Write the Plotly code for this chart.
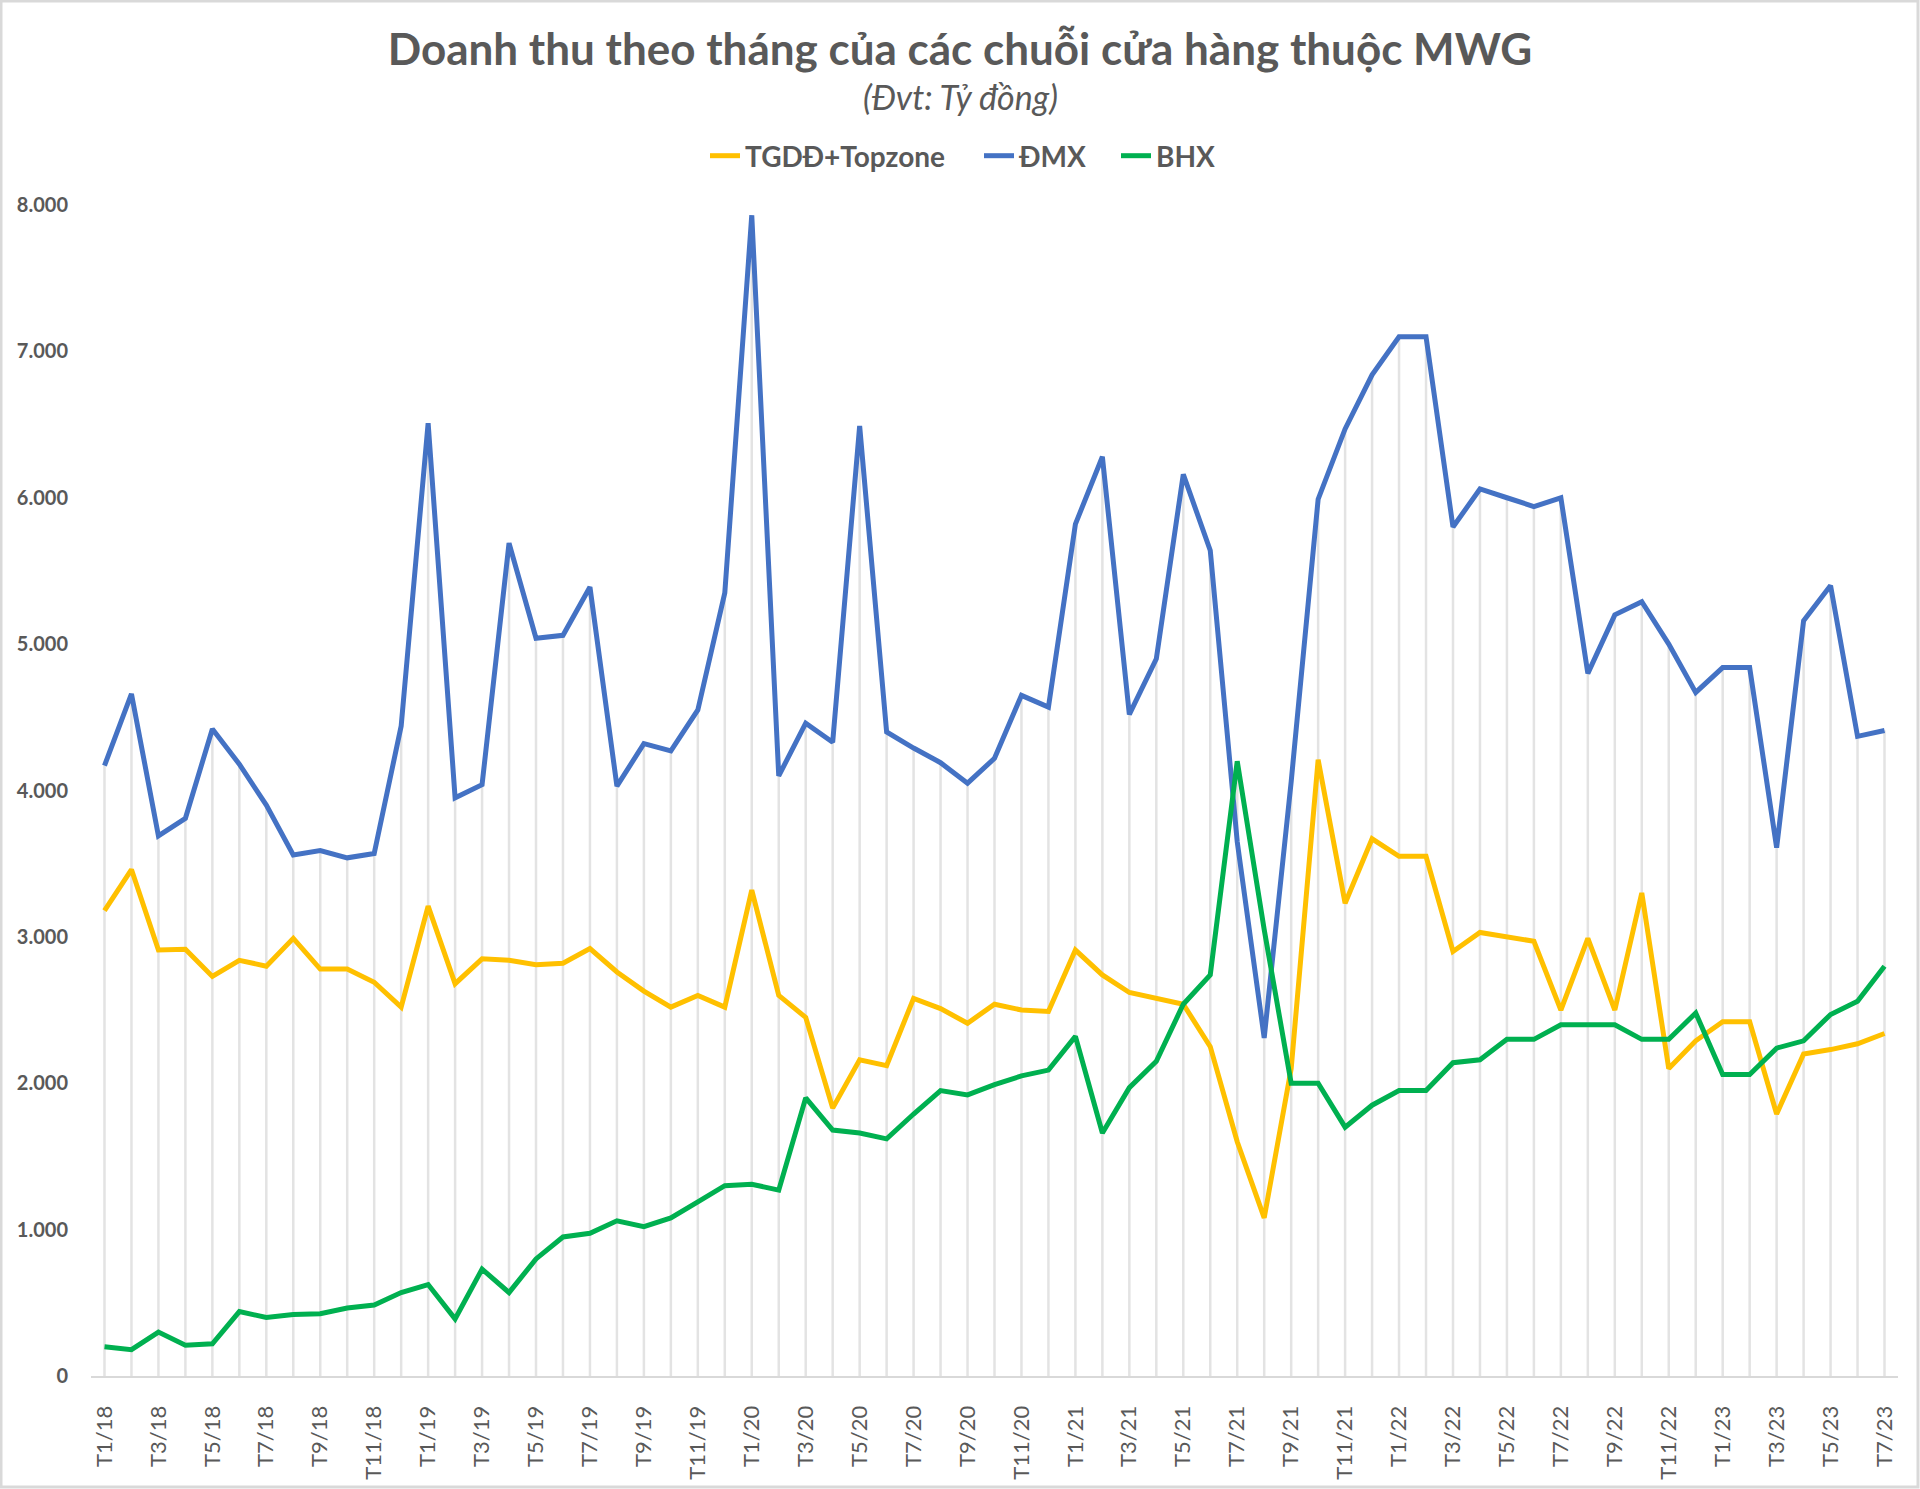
import plotly.graph_objects as go

# ---- data ----
months = [f"T{m}/{y}" for y in range(18, 24) for m in range(1, 13)][:67]

tgdd = [3180, 3460, 2910, 2915, 2730, 2840, 2800, 2990, 2780, 2780,
        2690, 2520, 3210, 2680, 2850, 2840, 2810, 2820, 2920, 2760,
        2630, 2520, 2600, 2520, 3320, 2600, 2450, 1830, 2160, 2120,
        2580, 2510, 2410, 2540, 2500, 2490, 2910, 2740, 2620, 2580,
        2540, 2250, 1600, 1080, 2100, 4210, 3230, 3670, 3550, 3550,
        2900, 3030, 3000, 2970, 2500, 2990, 2500, 3300, 2100, 2290,
        2420, 2420, 1790, 2200, 2230, 2270, 2340]

dmx = [4170, 4660, 3690, 3810, 4420, 4180, 3900, 3560, 3590, 3540,
       3570, 4440, 6510, 3950, 4040, 5690, 5040, 5060, 5390, 4030,
       4320, 4270, 4550, 5350, 7930, 4100, 4460, 4330, 6490, 4400,
       4290, 4190, 4050, 4220, 4650, 4570, 5820, 6280, 4520, 4900,
       6160, 5640, 3650, 2310, 4060, 5990, 6470, 6840, 7100, 7100,
       5800, 6060, 6000, 5940, 6000, 4800, 5200, 5290, 5000, 4670,
       4840, 4840, 3610, 5160, 5400, 4370, 4410]

bhx = [200, 180, 300, 210, 220, 440, 400, 420, 425, 465,
       485, 570, 625, 390, 730, 570, 800, 950, 975, 1060,
       1020, 1080, 1190, 1300, 1310, 1270, 1900, 1680, 1660, 1620,
       1790, 1950, 1920, 1990, 2050, 2090, 2320, 1660, 1970, 2150,
       2540, 2740, 4200, 3050, 2000, 2000, 1700, 1850, 1950, 1950,
       2140, 2160, 2300, 2300, 2400, 2400, 2400, 2300, 2300, 2480,
       2060, 2060, 2240, 2290, 2470, 2560, 2800]

series_names = ["TGDĐ+Topzone", "ĐMX", "BHX"]
tick_labels = months[::2]

# ---- figure geometry ----
W, H = 1920, 1489
ML, MR, MT, MB = 91, 22, 205, 113
PW, PH = W - ML - MR, H - MT - MB

GRAY = "#595959"

fig = go.Figure()

# drop lines (from axis up to the highest series at each month)
dx, dy = [], []
for i, m in enumerate(months):
    top = max(tgdd[i], dmx[i], bhx[i])
    dx += [m, m, None]
    dy += [0, top, None]
fig.add_trace(go.Scatter(x=dx, y=dy, mode="lines",
                         line=dict(color="#e3e3e3", width=2.5),
                         showlegend=False, hoverinfo="skip"))

colors = ["#FFC000", "#4472C4", "#00B050"]
legend_ids = ["legend", "legend2", "legend3"]
for name, vals, col, lg in zip(series_names, [tgdd, dmx, bhx], colors, legend_ids):
    fig.add_trace(go.Scatter(x=months, y=vals, mode="lines", name=name,
                             legend=lg,
                             line=dict(color=col, width=5)))

def px2paper_x(px):
    return (px - ML) / PW

def px2paper_y(py):
    return (H - MB - py) / PH

legend_font = dict(family="Lato", size=28, color=GRAY, weight="bold")
legend_left_px = [705, 979, 1116]

def legend_cfg(px):
    return dict(orientation="h", xref="container", x=px / W, xanchor="left",
                yref="container", y=1 - 156 / H, yanchor="middle",
                font=legend_font, itemwidth=30, bgcolor="rgba(0,0,0,0)")

fig.update_layout(
    width=W, height=H,
    margin=dict(l=ML, r=MR, t=MT, b=MB, autoexpand=False),
    plot_bgcolor="white", paper_bgcolor="white",
    separators=",.",
    title=dict(text="Doanh thu theo tháng của các chuỗi cửa hàng thuộc MWG",
               x=0.5, xref="container", xanchor="center",
               y=1 - 50 / H, yref="container", yanchor="middle",
               font=dict(family="Lato", size=44, color=GRAY, weight="bold")),
    legend=legend_cfg(legend_left_px[0]),
    legend2=legend_cfg(legend_left_px[1]),
    legend3=legend_cfg(legend_left_px[2]),
    xaxis=dict(type="category", range=[-0.5, 66.5], automargin=False,
               showline=True, linecolor="#d9d9d9", linewidth=2,
               showgrid=False, zeroline=False, ticks="",
               tickmode="array", tickvals=tick_labels, ticktext=tick_labels,
               tickangle=-90, ticklabelstandoff=19,
               tickfont=dict(family="Lato", size=22, color=GRAY)),
    yaxis=dict(range=[0, 8000], dtick=1000, tickformat=",d", automargin=False,
               showgrid=False, zeroline=False, showline=False, ticks="",
               ticklabelstandoff=22,
               tickfont=dict(family="Lato", size=20, color=GRAY,
                             weight="bold")),
    annotations=[dict(text="(Đvt: Tỷ đồng)", xref="paper", yref="paper",
                      x=px2paper_x(W / 2), y=px2paper_y(96),
                      xanchor="center", yanchor="middle", showarrow=False,
                      font=dict(family="Lato", size=34, color=GRAY,
                                style="italic"))],
    shapes=[dict(type="rect", xref="paper", yref="paper",
                 x0=px2paper_x(1), x1=px2paper_x(W - 2),
                 y0=px2paper_y(H - 2), y1=px2paper_y(1),
                 line=dict(color="#d9d9d9", width=3), layer="below")],
)

fig.write_html("out.html", config={"displayModeBar": False},
               post_script="document.body.style.margin='0';")
